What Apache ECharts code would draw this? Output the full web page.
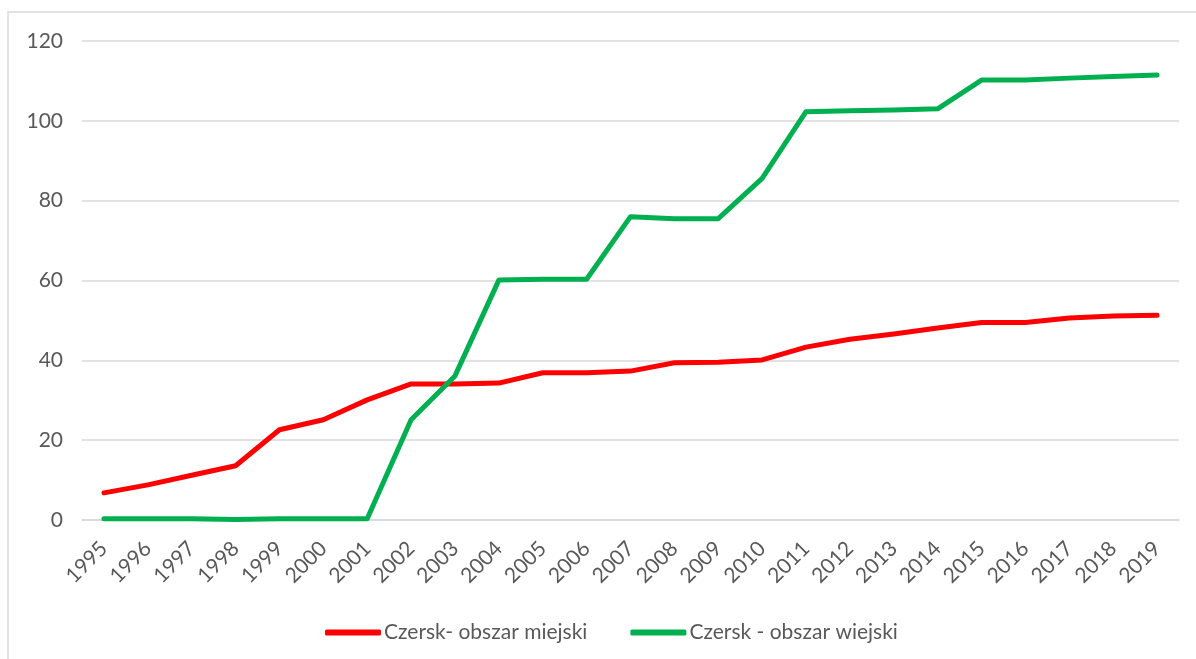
<!DOCTYPE html>
<html>
<head>
<meta charset="utf-8">
<script src="https://cdn.jsdelivr.net/npm/echarts@6/dist/echarts.min.js"></script>
<style>
  html, body { margin: 0; padding: 0; background: #fff; }
  #chart { width: 1196px; height: 659px; }
</style>
</head>
<body>
<div id="chart"></div>
<script>
// Years on the category axis
const years = ['1995','1996','1997','1998','1999','2000','2001','2002','2003','2004','2005','2006',
  '2007','2008','2009','2010','2011','2012','2013','2014','2015','2016','2017','2018','2019'];

// Czersk urban area
const urbanName = 'Czersk- obszar miejski';
const urbanValues = [6.8, 8.8, 11.2, 13.6, 22.6, 25.1, 30.1, 34.1, 34.1, 34.3, 36.9, 36.9,
  37.3, 39.4, 39.5, 40.1, 43.3, 45.3, 46.6, 48.1, 49.5, 49.5, 50.6, 51.1, 51.3];

// Czersk rural area
const ruralName = 'Czersk - obszar wiejski';
const ruralValues = [0.3, 0.3, 0.3, 0.1, 0.3, 0.3, 0.3, 25.1, 36.1, 60.1, 60.3, 60.3,
  76.0, 75.5, 75.5, 85.6, 102.3, 102.5, 102.7, 103.0, 110.2, 110.2, 110.7, 111.1, 111.5];

// Value axis ticks
const yMin = 0, yMax = 120, yStep = 20;

const FONT = 'Lato';
const TEXT = '#595959';

const chart = echarts.init(document.getElementById('chart'), null, { renderer: 'canvas' });
chart.setOption({
  backgroundColor: '#ffffff',
  animation: false,
  textStyle: { fontFamily: FONT, color: TEXT },
  graphic: [{
    type: 'rect',
    shape: { x: 8, y: 12, width: 1220, height: 700 },
    style: { fill: 'none', stroke: '#d9d9d9', lineWidth: 1.5 },
    silent: true
  }],
  grid: { left: 82, right: 17, top: 41, bottom: 139, containLabel: false },
  xAxis: {
    type: 'category',
    data: years,
    boundaryGap: true,
    axisLine: { show: true, lineStyle: { color: '#d9d9d9', width: 1.5 } },
    axisTick: { show: false },
    axisLabel: { rotate: 45, margin: 25, fontSize: 21, fontFamily: FONT, color: TEXT, interval: 0 }
  },
  yAxis: {
    type: 'value',
    min: yMin, max: yMax, interval: yStep,
    axisLine: { show: false },
    axisTick: { show: false },
    axisLabel: { margin: 19, fontSize: 21, fontFamily: FONT, color: TEXT },
    splitLine: { lineStyle: { color: '#d9d9d9', width: 1.5 } }
  },
  legend: {
    left: 320, top: 617,
    itemWidth: 56, itemHeight: 6, itemGap: 43,
    icon: 'roundRect',
    textStyle: { fontSize: 21, fontFamily: FONT, color: TEXT, padding: [0, 0, 0, -2] },
    data: [urbanName, ruralName]
  },
  series: [
    {
      name: urbanName, type: 'line', data: urbanValues,
      symbol: 'none', lineStyle: { color: '#ff0000', width: 5, cap: 'round', join: 'round' },
      itemStyle: { color: '#ff0000' }
    },
    {
      name: ruralName, type: 'line', data: ruralValues,
      symbol: 'none', lineStyle: { color: '#00b050', width: 5, cap: 'round', join: 'round' },
      itemStyle: { color: '#00b050' }
    }
  ]
});
</script>
</body>
</html>
